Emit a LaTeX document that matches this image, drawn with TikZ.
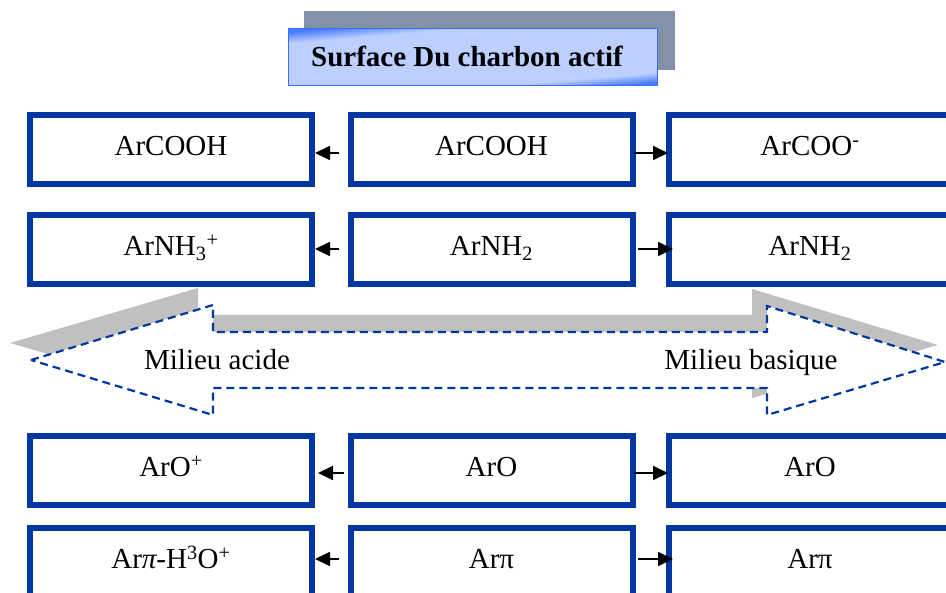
\documentclass[tikz,border=0pt]{standalone}
\usepackage{fontspec}
\setmainfont{Liberation Serif}
\usetikzlibrary{arrows.meta}
\definecolor{boxblue}{HTML}{0037A0}
\definecolor{titleblue}{HTML}{3370FF}
\definecolor{tblue}{HTML}{4A7CFF}
\definecolor{tlight}{HTML}{BCCFFF}
\definecolor{shadowgray}{HTML}{8290A8}
\definecolor{arrowshadow}{HTML}{C0C0C0}
\pgfdeclarehorizontalshading{titleshade}{100bp}{color(0bp)=(tblue); color(25bp)=(tblue); color(31bp)=(tlight); color(68bp)=(tlight); color(75bp)=(tblue); color(100bp)=(tblue)}
\tikzset{
  boxnode/.style={draw=boxblue, line width=6pt, fill=white, minimum width=282pt, minimum height=69pt, inner sep=0pt, text height=20pt, text depth=8pt, font=\fontsize{29}{34}\selectfont},
  conn/.style={line width=1.8pt, -{Triangle[length=15pt,width=14pt]}},
  bigarrow/.style={draw=boxblue, line width=2.2pt, dash pattern=on 8pt off 5pt, fill=white},
  lbl/.style={anchor=base, inner sep=0pt, font=\fontsize{29}{34}\selectfont}
}
\begin{document}
\begin{tikzpicture}[x=1pt,y=-1pt]
\useasboundingbox (0,0) rectangle (946,593);
% title
\node[fill=shadowgray, minimum width=371pt, minimum height=59pt, inner sep=0pt] (tsh) at (489.5,40.5) {};
\node[draw=titleblue, line width=1.5pt, shading=titleshade, shading angle=95, minimum width=369pt, minimum height=57pt, inner sep=0pt] (title) at (473,57) {};
\node[lbl, font=\fontsize{29}{34}\selectfont\bfseries] (ttext) at (467,67) {Surface Du charbon actif};
% big double arrow
\fill[arrowshadow] (10,343) -- (198,288) -- (198,315) -- (752,315) -- (752,289) -- (938,345) -- (752,398) -- (752,371) -- (198,371) -- (198,398) -- cycle;
\path[bigarrow] (31,360) -- (213,305) -- (213,332) -- (767,332) -- (767,306) -- (945,362) -- (767,415) -- (767,388) -- (213,388) -- (213,415) -- cycle;
\node[lbl] (acide) at (217,370) {Milieu acide};
\node[lbl] (basique) at (751,370) {Milieu basique};
% row 1
\node[boxnode] (l1) at (171,149.5) {ArCOOH};
\node[boxnode] (m1) at (491.5,149.5) {ArCOOH};
\node[boxnode] (r1) at (810,149.5) {ArCOO\textsuperscript{-}};
% row 2
\node[boxnode] (l2) at (171,250) {ArNH\textsubscript{3}\textsuperscript{+}};
\node[boxnode] (m2) at (491.5,250) {ArNH\textsubscript{2}};
\node[boxnode] (r2) at (810,250) {ArNH\textsubscript{2}};
% row 3
\node[boxnode] (l3) at (171,470.5) {ArO\textsuperscript{+}};
\node[boxnode] (m3) at (491.5,470.5) {ArO};
\node[boxnode] (r3) at (810,470.5) {ArO};
% row 4
\node[boxnode] (l4) at (171,562.5) {Ar{\itshape π}-H\textsuperscript{3}O\textsuperscript{+}};
\node[boxnode] (m4) at (491.5,562.5) {Arπ};
\node[boxnode] (r4) at (810,562.5) {Arπ};
% connectors
\draw[conn] ([shift={(-9,3.5)}]m1.west) -- ([shift={(0,3.5)}]l1.east);
\draw[conn] ([shift={(-2,3.5)}]m1.east) -- ([shift={(2,3.5)}]r1.west);
\draw[conn] ([shift={(-9,-1)}]m2.west) -- ([shift={(0,-1)}]l2.east);
\draw[conn] ([shift={(2,-1)}]m2.east) -- ([shift={(7,-1)}]r2.west);
\draw[conn] ([shift={(-4,2.5)}]m3.west) -- ([shift={(3,2.5)}]l3.east);
\draw[conn] ([shift={(-2,2.5)}]m3.east) -- ([shift={(2,2.5)}]r3.west);
\draw[conn] ([shift={(-9,-3.5)}]m4.west) -- ([shift={(0,-3.5)}]l4.east);
\draw[conn] ([shift={(2,-3.5)}]m4.east) -- ([shift={(7,-3.5)}]r4.west);
\end{tikzpicture}
\end{document}
